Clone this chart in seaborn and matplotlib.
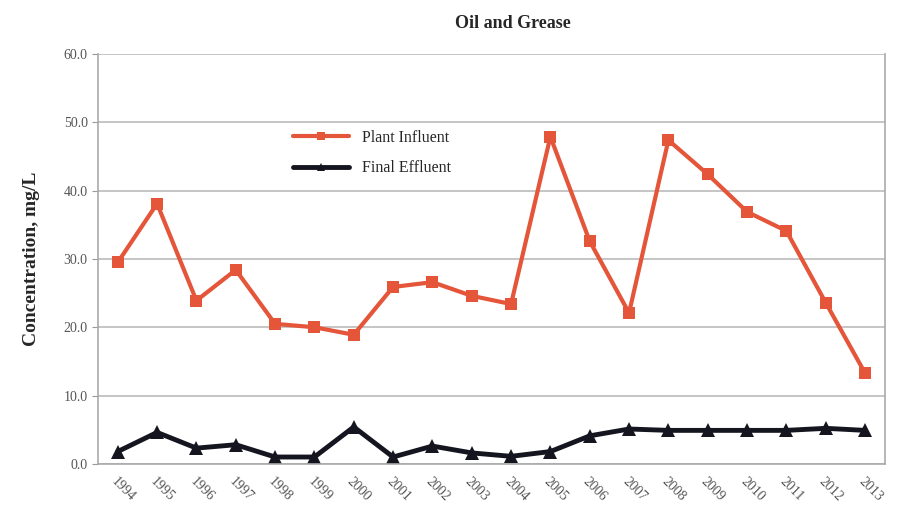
import matplotlib
matplotlib.use("Agg")
import matplotlib.pyplot as plt
import pandas as pd
import seaborn as sns

years = [str(y) for y in range(1994, 2014)]
plant_influent = [29.5, 38.1, 23.9, 28.4, 20.5, 20.0, 18.9, 25.9, 26.6, 24.6,
                  23.4, 47.9, 32.6, 22.1, 47.4, 42.4, 36.9, 34.1, 23.6, 13.3]
final_effluent = [1.8, 4.6, 2.3, 2.8, 1.0, 1.0, 5.4, 1.0, 2.6, 1.6,
                  1.1, 1.8, 4.1, 5.1, 4.9, 4.9, 4.9, 4.9, 5.2, 4.9]

df = pd.DataFrame({"pos": range(len(years)), "year": years,
                   "Plant Influent": plant_influent, "Final Effluent": final_effluent})

sns.set_style("white")
plt.rcParams["font.family"] = ["Liberation Serif", "DejaVu Serif"]

fig = plt.figure(figsize=(9, 5.2), dpi=100)
ax = fig.add_axes([0.109, 0.108, 0.874, 0.788])

sns.lineplot(data=df, x="pos", y="Plant Influent", ax=ax, color="#e4553a",
             marker="s", markersize=9, linewidth=3, markeredgewidth=0,
             label="Plant Influent")
sns.lineplot(data=df, x="pos", y="Final Effluent", ax=ax, color="#15151f",
             marker="^", markersize=10, linewidth=3.5, markeredgewidth=0,
             label="Final Effluent")

ax.set_xlim(-0.5, len(years) - 0.5)
ax.set_ylim(0, 60)
ax.set_yticks(range(0, 61, 10))
ax.set_yticklabels([f"{v:.1f}" for v in range(0, 61, 10)], color="#555555", fontsize=10)
ax.yaxis.grid(True, color="#bbbbbb", linewidth=1.2)
ax.set_xticks(range(len(years)))
ax.set_xticklabels(years, rotation=-45, ha="left", rotation_mode="anchor",
                   color="#555555", fontsize=10)
ax.set_xticks([i - 0.5 for i in range(len(years) + 1)], minor=True)
ax.tick_params(axis="x", which="major", length=0, pad=8)
ax.tick_params(axis="x", which="minor", length=5, color="#999999")
ax.tick_params(axis="y", length=4, color="#999999", left=True)

for side in ["left", "right", "bottom"]:
    ax.spines[side].set_color("#aaaaaa")
    ax.spines[side].set_linewidth(1.2)
ax.spines["top"].set_visible(False)

ax.set_xlabel("")
ax.set_ylabel("Concentration, mg/L", fontsize=14, fontweight="bold", labelpad=17)
fig.text(0.57, 0.955, "Oil and Grease", ha="center", va="center",
         fontsize=13, fontweight="bold")

ax.legend(loc="upper left", bbox_to_anchor=(0.23, 0.85), frameon=False,
          fontsize=11.5, handlelength=3.5, labelspacing=0.9, markerscale=0.6)

fig.savefig("out.png", dpi=100)
